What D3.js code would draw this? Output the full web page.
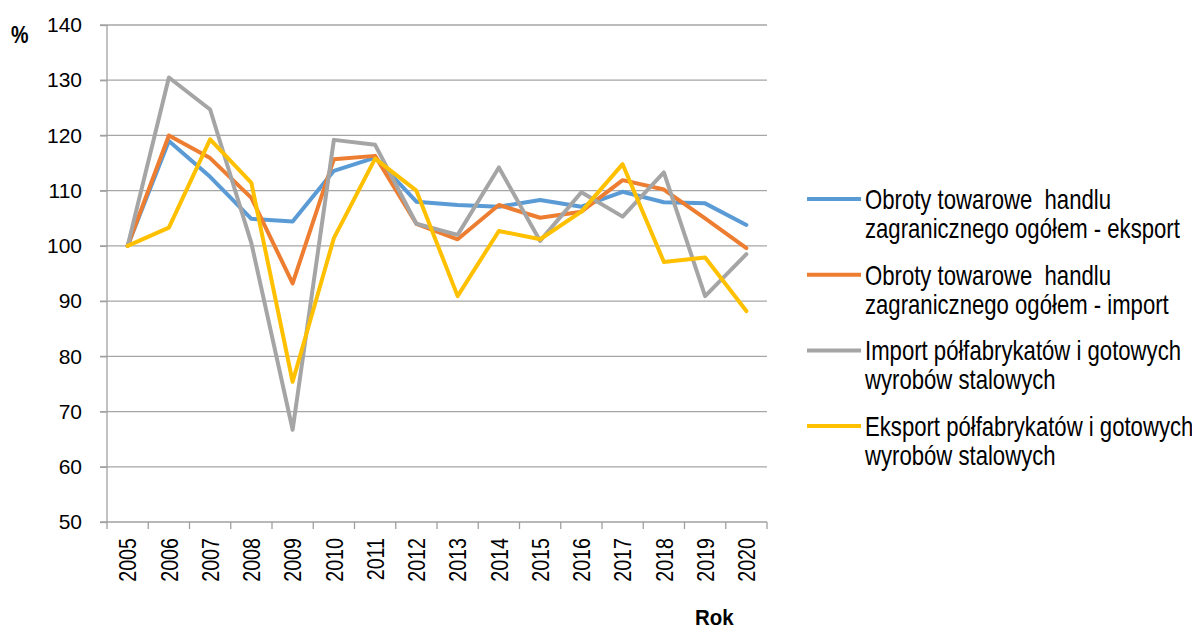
<!DOCTYPE html>
<html lang="pl">
<head>
<meta charset="utf-8">
<title>Obroty towarowe</title>
<script src="https://d3js.org/d3.v7.min.js"></script>
<style>
  body { margin: 0; background: #fff; }
  svg { display: block; font-family: "Liberation Sans", Arial, sans-serif; }
  .grid line { stroke: #a6a6a6; stroke-width: 1.3; }
  .axis path, .axis line { stroke: #a0a0a0; stroke-width: 1.3; }
  .axis text { fill: #000; font-size: 21px; }
</style>
</head>
<body>
<svg class="chart"></svg>
<script>
// data (index, 2005 = 100)
var years = ["2005","2006","2007","2008","2009","2010","2011","2012","2013","2014","2015","2016","2017","2018","2019","2020"];
var eksportOgolem = [100, 119.0, 112.5, 104.9, 104.4, 113.6, 116.0, 108.0, 107.4, 107.1, 108.3, 107.1, 109.8, 107.9, 107.7, 103.8];
var importOgolem = [100, 120.0, 115.9, 108.7, 93.2, 115.7, 116.3, 104.0, 101.2, 107.4, 105.1, 106.2, 111.9, 110.2, 105.0, 99.6];
var importStal = [100, 130.5, 124.7, 100.5, 66.7, 119.2, 118.3, 104.0, 102.0, 114.2, 100.9, 109.7, 105.3, 113.3, 90.9, 98.5];
var eksportStal = [100, 103.3, 119.3, 111.4, 75.4, 101.4, 115.8, 110.0, 90.9, 102.7, 101.2, 106.2, 114.8, 97.1, 97.9, 88.2];
var yTicks = [50, 60, 70, 80, 90, 100, 110, 120, 130, 140];
var seriesNames = [
  ["Obroty towarowe  handlu", "zagranicznego ogółem - eksport"],
  ["Obroty towarowe  handlu", "zagranicznego ogółem - import"],
  ["Import półfabrykatów i gotowych", "wyrobów stalowych"],
  ["Eksport półfabrykatów i gotowych", "wyrobów stalowych"]
];
var colors = ["#5b9bd5", "#ed7d31", "#a5a5a5", "#ffc000"];

var series = [eksportOgolem, importOgolem, importStal, eksportStal];

var width = 1192, height = 631;
var margin = {top: 25, left: 107, right: 425, bottom: 109};
var plotW = width - margin.left - margin.right;
var plotH = height - margin.top - margin.bottom;
var squeeze = 0.82; // condensed look of the original labels

var svg = d3.select(".chart")
  .attr("width", width)
  .attr("height", height);

var chart = svg.append("g")
  .attr("transform", "translate(" + margin.left + "," + margin.top + ")");

var x = d3.scaleBand().domain(years).range([0, plotW]);
var y = d3.scaleLinear().domain([50, 140]).range([plotH, 0]);

//horizontal gridlines
chart.append("g")
  .attr("class", "grid")
  .selectAll("line")
  .data(yTicks.slice(1))
  .enter()
  .append("line")
  .attr("x1", -7)
  .attr("x2", plotW)
  .attr("y1", function(d){ return y(d); })
  .attr("y2", function(d){ return y(d); });

//left axis
var yAxis = d3.axisLeft(y).tickValues(yTicks).tickSize(7).tickPadding(18);
chart.append("g")
  .attr("class", "axis")
  .call(yAxis)
  .call(function(g){ g.select(".domain").attr("d", "M0," + plotH + "V0"); });

//bottom axis, ticks on category boundaries
var xAxisG = chart.append("g")
  .attr("class", "axis")
  .attr("transform", "translate(0," + plotH + ")");

xAxisG.append("line")
  .attr("x1", -7).attr("x2", plotW)
  .attr("y1", 0).attr("y2", 0);

xAxisG.selectAll(".tk")
  .data(years.concat(["end"]))
  .enter()
  .append("line")
  .attr("class", "tk")
  .attr("x1", function(d, i){ return i * x.step(); })
  .attr("x2", function(d, i){ return i * x.step(); })
  .attr("y1", 0).attr("y2", 7);

xAxisG.selectAll(".lbl")
  .data(years)
  .enter()
  .append("text")
  .attr("class", "lbl")
  .attr("transform", function(d){
    return "translate(" + (x(d) + x.bandwidth() / 2) + ",16) rotate(-90) scale(" + squeeze + ",1)";
  })
  .attr("text-anchor", "end")
  .attr("dy", "0.36em")
  .style("font-size", "24px")
  .text(function(d){ return d; });

//lines
var line = d3.line()
  .x(function(d, i){ return x(years[i]) + x.bandwidth() / 2; })
  .y(function(d){ return y(d); });

chart.selectAll(".series")
  .data(series)
  .enter()
  .append("path")
  .attr("class", "series")
  .attr("fill", "none")
  .attr("stroke", function(d, i){ return colors[i]; })
  .attr("stroke-width", 4)
  .attr("stroke-linejoin", "round")
  .attr("stroke-linecap", "round")
  .attr("d", line);

//axis titles
svg.append("text")
  .attr("transform", "translate(11,43) scale(" + squeeze + ",1)")
  .style("font-size", "24px").style("font-weight", "bold")
  .text("%");

svg.append("text")
  .attr("transform", "translate(695,625) scale(0.93,1)")
  .style("font-size", "22px").style("font-weight", "bold")
  .text("Rok");

//legend
var legend = svg.append("g")
  .attr("transform", "translate(807,199)");

var items = legend.selectAll(".item")
  .data(seriesNames)
  .enter()
  .append("g")
  .attr("class", "item")
  .attr("transform", function(d, i){ return "translate(0," + (i * 75.7) + ")"; });

items.append("line")
  .attr("x1", 0).attr("x2", 54)
  .attr("y1", 0).attr("y2", 0)
  .attr("stroke", function(d, i){ return colors[i]; })
  .attr("stroke-width", 4);

items.append("text")
  .attr("transform", "translate(58,10) scale(" + squeeze + ",1)")
  .style("font-size", "27px")
  .style("white-space", "pre")
  .selectAll("tspan")
  .data(function(d){ return d; })
  .enter()
  .append("tspan")
  .attr("x", 0)
  .attr("dy", function(d, i){ return i === 0 ? 0 : 29; })
  .text(function(d){ return d; });
</script>
</body>
</html>
